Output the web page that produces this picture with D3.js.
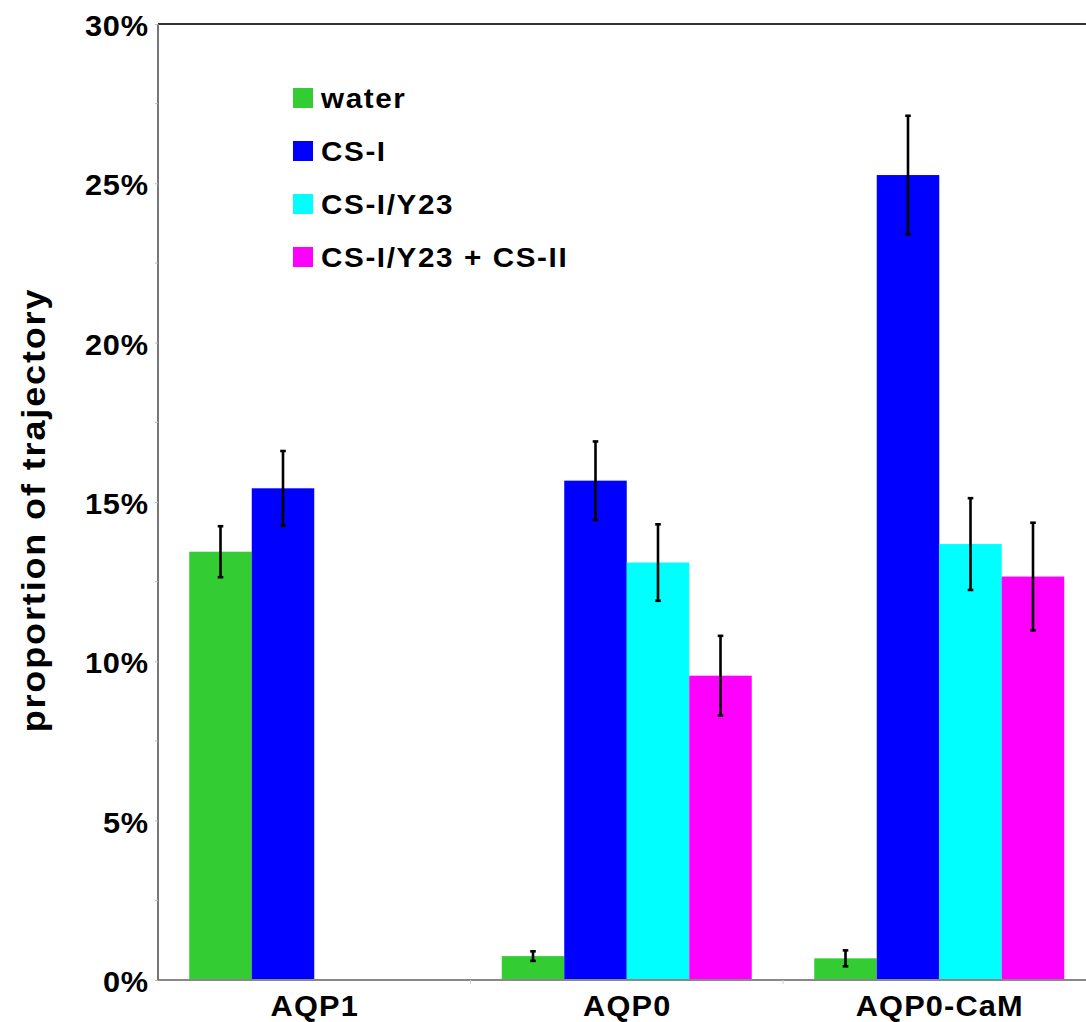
<!DOCTYPE html>
<html>
<head>
<meta charset="utf-8">
<script src="https://cdn.jsdelivr.net/npm/d3@7"></script>
<style>
  html, body { margin: 0; padding: 0; background: #fff; }
  svg { display: block; font-family: "Liberation Sans", Arial, Helvetica, sans-serif; }
</style>
</head>
<body>
<svg id="chart" width="1086" height="1022"></svg>
<script>
const categories = ["AQP1", "AQP0", "AQP0-CaM"]
const seriesNames = ["water", "CS-I", "CS-I/Y23", "CS-I/Y23 + CS-II"]
const seriesColors = ["#33cc33", "#0000ff", "#00ffff", "#ff00ff"]

// values in % per series, one entry per category (null = not shown)
const waterValues = [13.44, 0.75, 0.68]
const csIValues = [15.43, 15.67, 25.26]
const csIY23Values = [null, 13.10, 13.68]
const csIY23CsIIValues = [null, 9.55, 12.66]

const waterErr = [0.80, 0.15, 0.25]
const csIErr = [1.17, 1.23, 1.86]
const csIY23Err = [null, 1.20, 1.44]
const csIY23CsIIErr = [null, 1.25, 1.69]

const yTicks = [0, 5, 10, 15, 20, 25, 30]
const yMinorTicks = [2.5, 7.5, 12.5, 17.5, 22.5, 27.5]

const allValues = [waterValues, csIValues, csIY23Values, csIY23CsIIValues]
const allErrs = [waterErr, csIErr, csIY23Err, csIY23CsIIErr]

const rows = []
categories.forEach((cat, ci) => {
  seriesNames.forEach((s, si) => {
    const v = allValues[si][ci]
    if (v == null) return
    rows.push({ cat, series: s, si, value: v, err: allErrs[si][ci] })
  })
})

const plotL = 158, plotR = 1095.5, plotT = 24, plotB = 980
const stretch = 1.06 // the original font is a little wider than Arial
const svg = d3.select("#chart")

const x = d3.scaleBand().domain(categories).range([plotL, plotR])
const xInner = d3.scaleBand().domain(seriesNames)
  .range([x.bandwidth() * 0.1, x.bandwidth() * 0.9])
const y = d3.scaleLinear().domain([0, 30]).range([plotB, plotT])

// bars
svg.append("g")
  .selectAll("rect")
  .data(rows)
  .join("rect")
  .attr("x", d => x(d.cat) + xInner(d.series))
  .attr("y", d => y(d.value))
  .attr("width", xInner.bandwidth())
  .attr("height", d => y(0) - y(d.value))
  .attr("fill", d => seriesColors[d.si])

// error bars
const eb = svg.append("g")
  .selectAll("g")
  .data(rows)
  .join("g")
  .attr("transform", d => `translate(${x(d.cat) + xInner(d.series) + xInner.bandwidth() / 2},0)`)
  .attr("stroke", "#000")
  .attr("stroke-width", 2.6)

eb.append("line")
  .attr("y1", d => y(d.value - d.err))
  .attr("y2", d => y(d.value + d.err))
eb.append("line")
  .attr("x1", -2.8).attr("x2", 2.8)
  .attr("y1", d => y(d.value + d.err)).attr("y2", d => y(d.value + d.err))
eb.append("line")
  .attr("x1", -2.8).attr("x2", 2.8)
  .attr("y1", d => y(d.value - d.err)).attr("y2", d => y(d.value - d.err))

// frame lines
svg.append("line")
  .attr("x1", plotL).attr("x2", 1086).attr("y1", plotT).attr("y2", plotT)
  .attr("stroke", "#333").attr("stroke-width", 2)
svg.append("line")
  .attr("x1", plotL).attr("x2", 1086).attr("y1", plotB).attr("y2", plotB)
  .attr("stroke", "#888").attr("stroke-width", 2)
svg.append("line")
  .attr("x1", plotL).attr("x2", plotL).attr("y1", plotT).attr("y2", plotB)
  .attr("stroke", "#777").attr("stroke-width", 2)

// y axis
const yAxis = svg.append("g")
  .attr("transform", `translate(${plotL},0)`)
  .call(d3.axisLeft(y).tickValues(yTicks).tickSize(3).tickPadding(8).tickFormat(d => d + "%"))
yAxis.select(".domain").remove()
yAxis.selectAll(".tick line").attr("stroke", "#bbb")
yAxis.selectAll(".tick text")
  .attr("font-size", 29).attr("font-weight", "bold").attr("fill", "#000")
  .attr("font-family", "Liberation Sans, Arial, sans-serif")
  .attr("letter-spacing", 0.8)
  .attr("x", 0)
  .attr("transform", `translate(-9,0) scale(${stretch},1)`)
  .attr("dy", "0.4em")

svg.append("g")
  .selectAll("line")
  .data(yMinorTicks)
  .join("line")
  .attr("x1", plotL - 3).attr("x2", plotL)
  .attr("y1", d => y(d)).attr("y2", d => y(d))
  .attr("stroke", "#bbb")

// x axis
const xAxis = svg.append("g")
  .attr("transform", `translate(0,${plotB})`)
  .call(d3.axisBottom(x).tickSize(0).tickPadding(0))
xAxis.select(".domain").remove()
xAxis.selectAll(".tick text")
  .attr("font-size", 29).attr("font-weight", "bold").attr("fill", "#000")
  .attr("font-family", "Liberation Sans, Arial, sans-serif")
  .attr("letter-spacing", 1.1)
  .attr("transform", `scale(${stretch},1)`)
  .attr("dx", 0.5)
  .attr("dy", null)
  .attr("y", 36)

svg.append("g")
  .selectAll("line")
  .data(categories.slice(1))
  .join("line")
  .attr("x1", d => x(d)).attr("x2", d => x(d))
  .attr("y1", plotB).attr("y2", plotB + 4)
  .attr("stroke", "#ccc")

// y label
svg.append("text")
  .attr("transform", `translate(45,${(plotT + plotB) / 2 + 8}) rotate(-90) scale(${stretch},1)`)
  .attr("text-anchor", "middle")
  .attr("font-size", 34)
  .attr("font-weight", "bold")
  .attr("letter-spacing", 1.75)
  .text("proportion of trajectory")

// legend
const legend = svg.append("g")
  .selectAll("g")
  .data(seriesNames)
  .join("g")
  .attr("transform", (d, i) => `translate(293,${88 + i * 53})`)

legend.append("rect")
  .attr("width", 20).attr("height", 20)
  .attr("fill", (d, i) => seriesColors[i])

legend.append("text")
  .attr("transform", `translate(28,20) scale(${stretch},1)`)
  .attr("font-size", 28)
  .attr("font-weight", "bold")
  .attr("letter-spacing", 1.5)
  .text(d => d)
</script>
</body>
</html>
